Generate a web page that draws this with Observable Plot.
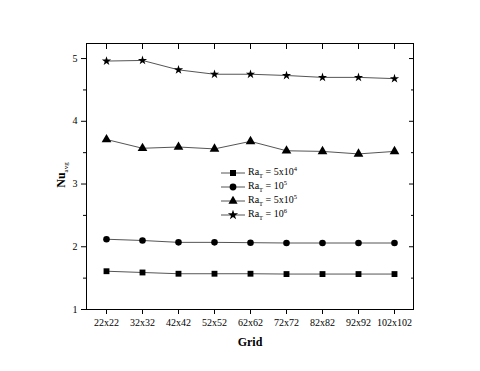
<!DOCTYPE html>
<html><head><meta charset="utf-8">
<script src="https://cdn.jsdelivr.net/npm/d3@7"></script>
<script src="https://cdn.jsdelivr.net/npm/@observablehq/plot@0.6"></script>
<style>
html,body{margin:0;padding:0;background:#fff;}
#wrap{position:relative;width:480px;height:371px;font-family:"Liberation Serif",serif;}
#wrap svg text{font-family:"Liberation Serif",serif !important;}
#ylab{position:absolute;left:62px;top:175px;transform:translate(-50%,-50%) rotate(-90deg);font-size:12px;white-space:nowrap;}
#xlab{position:absolute;left:250px;top:342px;transform:translate(-50%,-50%);font-size:12px;font-weight:bold;}
#legend{position:absolute;left:220px;top:166px;font-size:10px;line-height:14px;}
#legend div{display:flex;align-items:center;height:14px;}
#legend svg{margin-right:2px;}
sub,sup{font-size:6.5px;}
</style>
</head><body>
<div id="wrap"></div>
<script>
const grids = ["22x22","32x32","42x42","52x52","62x62","72x72","82x82","92x92","102x102"];
const seriesNames = ["5x10^4","10^5","5x10^5","10^6"];
const symbols = ["square","circle","triangle","star"];
const ra5e4 = [1.61,1.59,1.57,1.57,1.57,1.565,1.565,1.565,1.565];
const ra1e5 = [2.12,2.10,2.07,2.07,2.065,2.06,2.06,2.06,2.06];
const ra5e5 = [3.71,3.57,3.59,3.56,3.68,3.53,3.52,3.48,3.52];
const ra1e6 = [4.96,4.97,4.82,4.75,4.75,4.73,4.70,4.70,4.68];
const yMajor = [1,2,3,4,5];
const yMinor = [1.5,2.5,3.5,4.5];

const allSeries = [ra5e4, ra1e5, ra5e5, ra1e6];
const symSize = {square: 3.3, circle: 3.3, triangle: 3.6, star: 2.9};
const data = [];
allSeries.forEach((vals, si) => vals.forEach((v, i) => data.push({grid: grids[i], nu: v, s: seriesNames[si], sym: symbols[si], rr: symSize[symbols[si]]})));
const blank = () => "";

const chart = Plot.plot({
  width: 480, height: 371,
  marginLeft: 86, marginRight: 67, marginTop: 43, marginBottom: 62,
  style: {fontFamily: "Liberation Serif, serif", fontSize: "10px", color: "#000", background: "transparent"},
  x: {type: "point", domain: grids, padding: 0.5, label: null},
  y: {domain: [1, 5.24], label: null},
  r: {type: "identity"},
  symbol: {domain: symbols, range: symbols},
  marks: [
    Plot.frame({stroke: "#000", strokeWidth: 1}),
    Plot.axisY({ticks: yMajor, tickSize: 5, tickPadding: 4, tickFormat: d => d, anchor: "left"}),
    Plot.axisY({ticks: yMinor, tickSize: 3, tickFormat: blank, anchor: "left"}),
    Plot.axisY({ticks: yMajor, tickSize: -5, tickFormat: blank, anchor: "right"}),
    Plot.axisY({ticks: yMinor, tickSize: -3, tickFormat: blank, anchor: "right"}),
    Plot.axisX({anchor: "bottom", tickSize: 5, tickPadding: 4}),
    Plot.axisX({anchor: "top", tickSize: -5, tickFormat: blank}),
    Plot.line(data, {x: "grid", y: "nu", z: "s", stroke: "#555", strokeWidth: 1}),
    Plot.dot(data, {x: "grid", y: "nu", symbol: "sym", r: "rr", fill: "#000", stroke: "none"})
  ]
});
const wrap = document.getElementById("wrap");
wrap.appendChild(chart);

const yl = document.createElement("div");
yl.id = "ylab";
yl.innerHTML = "<b>Nu</b><sub style='font-size:7px'>avg</sub>";
wrap.appendChild(yl);
const xl = document.createElement("div");
xl.id = "xlab";
xl.textContent = "Grid";
wrap.appendChild(xl);

const lg = document.createElement("div");
lg.id = "legend";
seriesNames.forEach((name, i) => {
  const row = document.createElement("div");
  const sym = d3.symbol(
    {square: d3.symbolSquare, circle: d3.symbolCircle, triangle: d3.symbolTriangle, star: d3.symbolStar}[symbols[i]],
    symbols[i] === "star" ? 32 : 36)();
  const [base, exp] = name.split("^");
  row.innerHTML = `<svg width="26" height="10"><line x1="1" x2="25" y1="5" y2="5" stroke="#555"/><path d="${sym}" transform="translate(13,5)" fill="#000"/></svg><span>Ra<sub>T</sub> = ${base}<sup>${exp}</sup></span>`;
  lg.appendChild(row);
});
wrap.appendChild(lg);
</script>
</body></html>
